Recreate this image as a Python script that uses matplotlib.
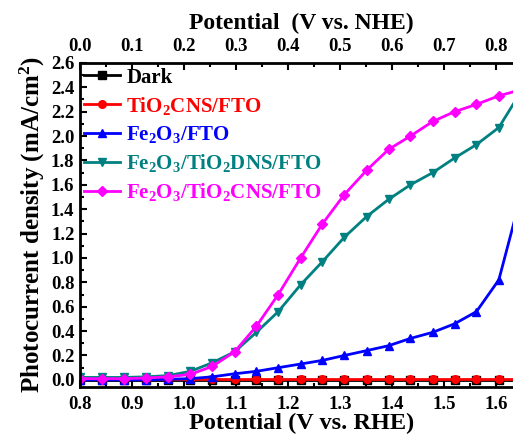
import matplotlib
matplotlib.use("Agg")
import matplotlib.pyplot as plt
from matplotlib.ticker import MultipleLocator

plt.rcParams['font.family'] = ['Liberation Serif', 'DejaVu Serif']
plt.rcParams['font.weight'] = 'bold'
plt.rcParams['mathtext.fontset'] = 'custom'
plt.rcParams['mathtext.rm'] = 'Liberation Serif:bold'
plt.rcParams['mathtext.it'] = 'Liberation Serif:bold'
plt.rcParams['mathtext.bf'] = 'Liberation Serif:bold'
plt.rcParams['mathtext.default'] = 'regular'

potential = [0.800, 0.842, 0.885, 0.927, 0.969, 1.012, 1.054, 1.097, 1.139, 1.181,
             1.224, 1.266, 1.308, 1.351, 1.393, 1.435, 1.478, 1.520, 1.562, 1.605, 1.647]

dark = [0.0] * 21
tio2_cns = [0.005] * 21
fe2o3 = [0.0, 0.0, 0.0, 0.0, 0.005, 0.01, 0.025, 0.05, 0.07, 0.10,
         0.13, 0.16, 0.20, 0.24, 0.28, 0.34, 0.39, 0.46, 0.56, 0.82, 1.50]
fe2o3_dns = [0.02, 0.02, 0.02, 0.025, 0.035, 0.07, 0.14, 0.23, 0.39, 0.56,
             0.78, 0.97, 1.17, 1.34, 1.48, 1.60, 1.70, 1.82, 1.93, 2.07, 2.36]
fe2o3_cns = [0.01, 0.01, 0.01, 0.015, 0.025, 0.045, 0.11, 0.23, 0.44, 0.70,
             1.00, 1.28, 1.52, 1.72, 1.89, 2.00, 2.12, 2.20, 2.26, 2.33, 2.38]

labels = ['Dark', r'TiO$_2$CNS/FTO', r'Fe$_2$O$_3$/FTO',
          r'Fe$_2$O$_3$/TiO$_2$DNS/FTO', r'Fe$_2$O$_3$/TiO$_2$CNS/FTO']
colors = ['black', '#ff0000', '#0000ff', '#008080', '#ff00ff']
markers = ['s', 'o', '^', 'v', 'D']
series = [dark, tio2_cns, fe2o3, fe2o3_dns, fe2o3_cns]

fig = plt.figure(figsize=(5.13, 4.37), dpi=100)
ax = fig.add_axes([0.156, 0.114, 0.862, 0.742])

for y, c, m, lab in zip(series, colors, markers, labels):
    ax.plot(potential, y, color=c, marker=m, markersize=5.5, lw=2, label=lab)

ax.set_xlim(0.8, 1.65)
ax.set_ylim(-0.06, 2.6)
ax.xaxis.set_major_locator(MultipleLocator(0.1))
ax.xaxis.set_minor_locator(MultipleLocator(0.05))
ax.yaxis.set_major_locator(MultipleLocator(0.2))
ax.yaxis.set_minor_locator(MultipleLocator(0.1))
ax.tick_params(which='both', direction='in', width=1.5, labelsize=13.5)
ax.tick_params(axis='x', pad=6)
ax.tick_params(axis='y', pad=4)
ax.tick_params(which='major', length=5)
ax.tick_params(which='minor', length=3)
for s in ax.spines.values():
    s.set_linewidth(2)

ax.set_xlabel('Potential (V vs. RHE)', fontsize=17.5, fontweight='bold', labelpad=0)
ax.set_ylabel('Photocurrent density (mA/cm$^2$)', fontsize=18, fontweight='bold', labelpad=3)

sec = ax.secondary_xaxis('top', functions=(lambda x: x - 0.8, lambda x: x + 0.8))
sec.xaxis.set_major_locator(MultipleLocator(0.1))
sec.xaxis.set_minor_locator(MultipleLocator(0.05))
sec.tick_params(which='both', direction='in', width=1.5, labelsize=13.5, pad=6)
sec.tick_params(which='major', length=5)
sec.tick_params(which='minor', length=3)
sec.set_xlabel('Potential  (V vs. NHE)', fontsize=17, fontweight='bold', labelpad=6)

for lbl in ax.get_xticklabels() + ax.get_yticklabels() + sec.get_xticklabels():
    lbl.set_fontweight('bold')

leg = ax.legend(loc='upper left', frameon=False, fontsize=15, handlelength=1.7,
                handletextpad=0.3, labelspacing=0.34, borderaxespad=0.0,
                borderpad=0.15, bbox_to_anchor=(0.003, 0.995))
for t, c in zip(leg.get_texts(), colors):
    t.set_color(c)

fig.savefig('out.png', dpi=100)
